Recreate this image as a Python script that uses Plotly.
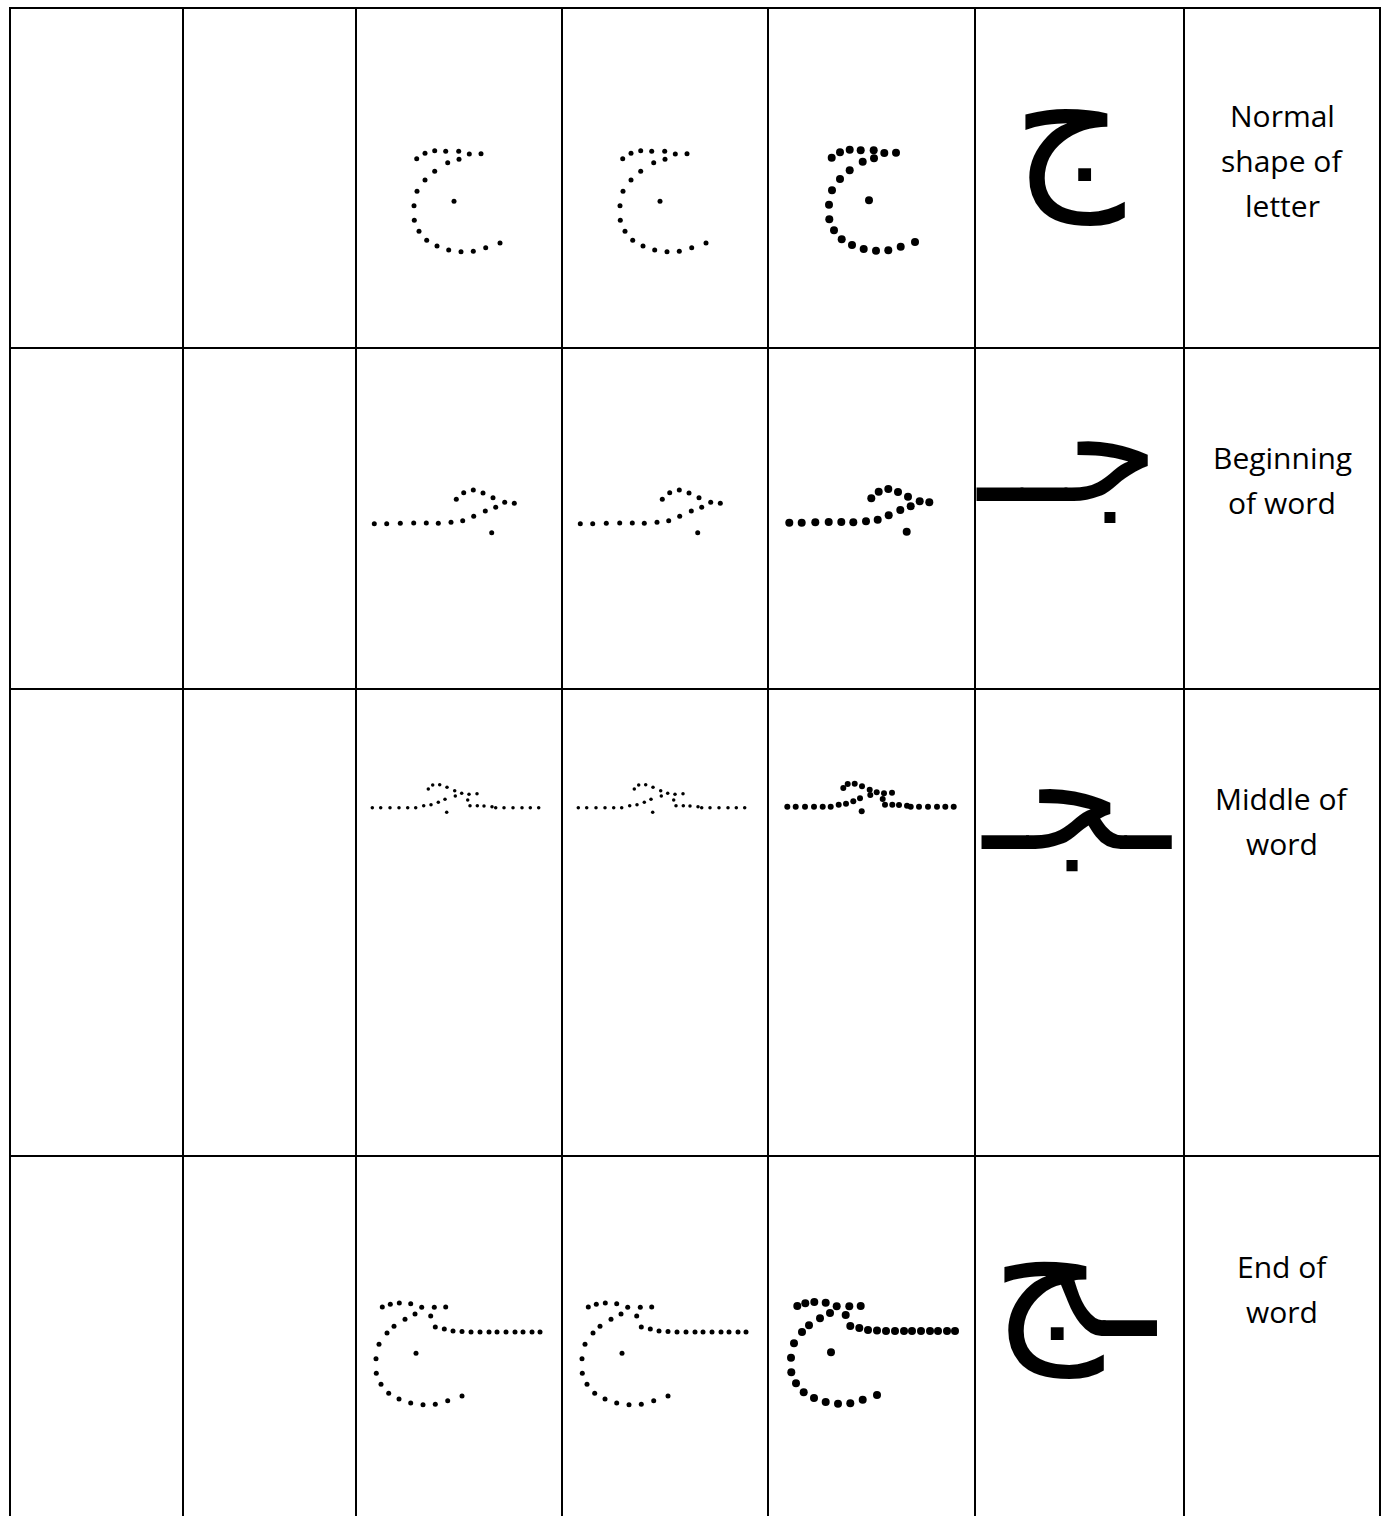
import plotly.graph_objects as go

W, H = 1382, 1516

# table grid (pixel positions)
col_edges = [10, 183, 356, 562, 768, 975, 1184, 1380]
row_edges = [8, 348, 689, 1156]

# labels for each row, one entry per text line
row_label_lines = [["Normal", "shape of", "letter"], ["Beginning", "of word"], ["Middle of", "word"], ["End of", "word"]]
row_label_y = [[115, 160, 205], [457, 502], [798, 843], [1266, 1311]]

# the letter in its four positional forms
letter_forms = ["ج", "جــ", "ـجـ", "ـج"]
glyph_x = [1068, 1067, 1077, 1074]
glyph_y = [123, 449, 796, 1276]
glyph_size = [175, 150, 152, 175]

# tracing-dot templates, relative to (cell left, row top)
iso_x = [60.7, 69, 78.7, 89.7, 102.7, 113.3, 125, 91.7, 103, 78.7, 69, 61, 58, 58.3, 63, 70.7, 81, 92.7, 105, 117.3, 129.7, 144, 98]
iso_y = [150.7, 145.3, 142.7, 143.3, 143.3, 146, 145.7, 154.7, 151.3, 163.3, 172, 183.3, 197.7, 212.3, 223.3, 232.3, 238, 242, 243.7, 243.3, 239.7, 235, 193.3]

beg_x = [18.3, 30.7, 44.3, 57.7, 70.3, 82.3, 95, 106.7, 117.7, 129.3, 139.7, 148.7, 158.3, 100.3, 107.7, 117.3, 127, 137, 135.7]
beg_y = [175.7, 175.7, 175.3, 175, 175, 175.3, 174.3, 172.7, 168.3, 163, 159.3, 154.3, 155.3, 151.3, 144.7, 142, 145, 149.7, 184.7]

mid_x = [16.3, 24.7, 34, 43, 51.7, 59.7, 67.7, 75, 82.3, 89, 72.3, 76.7, 83.7, 91, 98.7, 105.7, 113, 121, 99.3, 111.7, 114, 121.3, 128, 136, 139.7, 148, 157, 166, 174.3, 182.7, 90.7]
mid_y = [118.7, 118.7, 118.7, 118.7, 118.7, 118.7, 116.7, 115.7, 113.3, 110.3, 100, 96, 95.7, 98.3, 101.7, 104.3, 105.3, 104.7, 107, 111, 116.7, 116.7, 117, 117.7, 118.7, 118.7, 118.7, 118.7, 118.7, 118.7, 123.3]

end_x = [26.3, 34.3, 43.3, 54.7, 65.7, 78.3, 89.7, 49, 59, 74.7, 38, 31, 23, 20, 20.3, 25, 32.7, 43, 54.7, 67, 79.3, 91.7, 106, 60, 79.3, 88.3, 97, 106, 115, 124, 133, 141, 150, 159, 167, 176, 184]
end_y = [151, 148.3, 147, 147.7, 151.3, 151.3, 151, 163.3, 158, 160, 170.3, 177, 188.3, 202.7, 217.3, 228.3, 237.3, 243, 247, 248.7, 248.3, 244.7, 240, 197.3, 171, 173, 175, 175.5, 176, 176, 176, 176, 176, 176, 176, 176, 176]

templates = [(iso_x, iso_y), (beg_x, beg_y), (mid_x, mid_y), (end_x, end_y)]
dot_cols = [2, 3, 4]                 # tracing columns
dot_small = [5, 5, 3.5, 5]           # dot size per row, light columns
dot_bold = [8, 8, 6, 8]              # dot size per row, bold column

fig = go.Figure()

for r, (tx, ty) in enumerate(templates):
    for c in dot_cols:
        bold = (c == 4)
        dx = col_edges[c] + (3 if bold else 0)
        dy = row_edges[r] - (1 if bold else 0)
        fig.add_trace(go.Scatter(
            x=[v + dx for v in tx], y=[v + dy for v in ty],
            mode="markers",
            marker=dict(size=dot_bold[r] if bold else dot_small[r], color="black", line=dict(width=0)),
            hoverinfo="skip", showlegend=False))

shapes = []
for x in col_edges:
    shapes.append(dict(type="line", xref="x", yref="y", x0=x, x1=x, y0=row_edges[0] - 1, y1=H,
                       line=dict(color="black", width=2)))
for y in row_edges:
    shapes.append(dict(type="line", xref="x", yref="y", x0=col_edges[0] - 1, x1=col_edges[-1] + 1, y0=y, y1=y,
                       line=dict(color="black", width=2)))

annotations = []
label_x = (col_edges[6] + col_edges[7]) / 2
for r in range(4):
    for line, ly in zip(row_label_lines[r], row_label_y[r]):
        annotations.append(dict(x=label_x, y=ly, xref="x", yref="y",
                                text=line, showarrow=False, align="center",
                                font=dict(family="Open Sans", size=30, color="black")))
    annotations.append(dict(x=glyph_x[r], y=glyph_y[r], xref="x", yref="y",
                            text=letter_forms[r], showarrow=False,
                            font=dict(family="DejaVu Sans", size=glyph_size[r], color="black")))

fig.update_layout(
    width=W, height=H, margin=dict(l=0, r=0, t=0, b=0),
    paper_bgcolor="white", plot_bgcolor="white",
    xaxis=dict(range=[0, W], visible=False, fixedrange=True),
    yaxis=dict(range=[H, 0], visible=False, fixedrange=True),
    shapes=shapes, annotations=annotations,
)

fig.write_html("out.html", config={"displayModeBar": False},
               post_script="document.body.style.margin='0';document.body.style.overflow='hidden';")
